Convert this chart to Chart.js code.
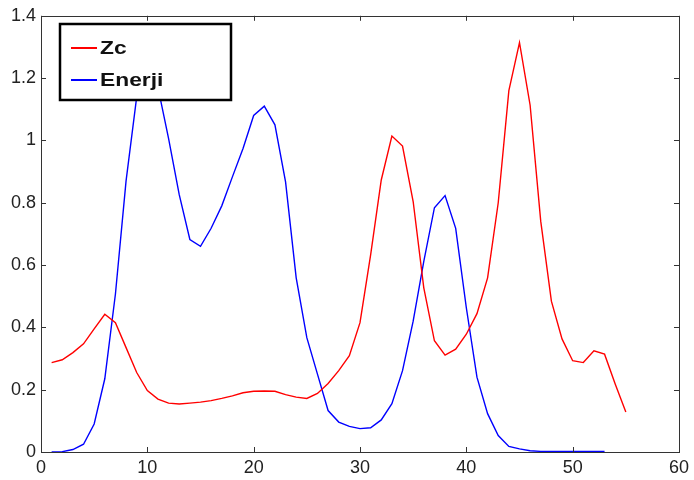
<!DOCTYPE html>
<html>
<head>
<meta charset="utf-8">
<script src="https://cdn.jsdelivr.net/npm/chart.js@4/dist/chart.umd.min.js"></script>
<style>
  html, body { margin: 0; padding: 0; background: #fff; }
  #wrap { width: 694px; height: 480px; }
</style>
</head>
<body>
<div id="wrap"><canvas id="zcChart"></canvas></div>
<script>
// --- data ---
const xTicks = [0, 10, 20, 30, 40, 50, 60];
const yTicks = [0, 0.2, 0.4, 0.6, 0.8, 1, 1.2, 1.4];

// Zc, frames 1..55
const zcValues = [
  0.287, 0.296, 0.319, 0.347, 0.395, 0.442, 0.415, 0.335, 0.255, 0.197,
  0.170, 0.157, 0.154, 0.157, 0.160, 0.165, 0.172, 0.180, 0.190, 0.195,
  0.196, 0.195, 0.184, 0.176, 0.172, 0.188, 0.220, 0.261, 0.309, 0.415,
  0.633, 0.873, 1.014, 0.982, 0.804, 0.527, 0.357, 0.311, 0.330, 0.378,
  0.444, 0.559, 0.800, 1.160, 1.314, 1.113, 0.740, 0.484, 0.363, 0.293,
  0.287, 0.325, 0.314, 0.218, 0.128
];

// Enerji, frames 1..53
const enerjiValues = [
  0.000, 0.001, 0.008, 0.025, 0.090, 0.235, 0.507, 0.870, 1.140, 1.260,
  1.170, 1.006, 0.826, 0.682, 0.660, 0.718, 0.790, 0.883, 0.974, 1.080,
  1.110, 1.050, 0.867, 0.559, 0.367, 0.250, 0.133, 0.096, 0.082, 0.075,
  0.078, 0.103, 0.155, 0.261, 0.420, 0.612, 0.784, 0.823, 0.718, 0.463,
  0.240, 0.123, 0.053, 0.018, 0.010, 0.004, 0.002, 0.002, 0.002, 0.002,
  0.002, 0.002, 0.002
];

const toPoints = vals => vals.map((v, i) => ({ x: i + 1, y: v }));

const FONT = 'Arial, "Liberation Sans", sans-serif';

// box around the plot with inward ticks on all four sides
const frameBox = {
  id: 'frameBox',
  afterDraw(chart) {
    const { ctx, chartArea: a, scales } = chart;
    ctx.save();
    ctx.strokeStyle = '#333';
    ctx.lineWidth = 1;
    ctx.strokeRect(Math.round(a.left) + 0.5, Math.round(a.top) + 0.5,
                   Math.round(a.right - a.left), Math.round(a.bottom - a.top));
    const t = 5;
    ctx.beginPath();
    xTicks.forEach(v => {
      const px = Math.round(scales.x.getPixelForValue(v)) + 0.5;
      ctx.moveTo(px, a.bottom); ctx.lineTo(px, a.bottom - t);
      ctx.moveTo(px, a.top); ctx.lineTo(px, a.top + t);
    });
    yTicks.forEach(v => {
      const py = Math.round(scales.y.getPixelForValue(v)) + 0.5;
      ctx.moveTo(a.left, py); ctx.lineTo(a.left + t, py);
      ctx.moveTo(a.right, py); ctx.lineTo(a.right - t, py);
    });
    ctx.stroke();
    ctx.restore();
  }
};

// legend box drawn over the lines, top-left corner
const boxLegend = {
  id: 'boxLegend',
  afterDatasetsDraw(chart) {
    const { ctx } = chart;
    const x = 60, y = 24, w = 171, h = 76;
    ctx.save();
    ctx.fillStyle = '#fff';
    ctx.fillRect(x, y, w, h);
    ctx.strokeStyle = '#000';
    ctx.lineWidth = 2.5;
    ctx.strokeRect(x, y, w, h);
    chart.data.datasets.forEach((ds, i) => {
      const ly = y + 24 + i * 32;
      ctx.strokeStyle = ds.borderColor;
      ctx.lineWidth = 2;
      ctx.beginPath();
      ctx.moveTo(x + 11, ly); ctx.lineTo(x + 37, ly);
      ctx.stroke();
      // labels are a little wide, so stretch them horizontally
      ctx.save();
      ctx.translate(x + 40, ly + 1);
      ctx.scale(1.2, 1);
      ctx.font = 'bold 19px ' + FONT;
      ctx.textBaseline = 'middle';
      ctx.fillStyle = '#111';
      ctx.fillText(ds.label, 0, 0);
      ctx.restore();
    });
    ctx.restore();
  }
};

new Chart(document.getElementById('zcChart').getContext('2d'), {
  type: 'line',
  data: {
    datasets: [
      {
        label: 'Zc',
        data: toPoints(zcValues),
        borderColor: '#ff0000',
        borderWidth: 1.4,
        pointRadius: 0,
        tension: 0,
        fill: false
      },
      {
        label: 'Enerji',
        data: toPoints(enerjiValues),
        borderColor: '#0000ff',
        borderWidth: 1.4,
        pointRadius: 0,
        tension: 0,
        fill: false
      }
    ]
  },
  options: {
    responsive: true,
    maintainAspectRatio: false,
    animation: false,
    layout: { padding: { top: 12, right: 10, left: 0, bottom: 0 } },
    scales: {
      x: {
        type: 'linear',
        min: 0, max: 60,
        afterBuildTicks: s => { s.ticks = xTicks.map(v => ({ value: v })); },
        afterFit: s => { s.height = 28; },
        grid: { display: false, drawTicks: false },
        border: { display: false },
        ticks: { padding: 5, color: '#222', font: { family: FONT, size: 18 }, maxRotation: 0 }
      },
      y: {
        min: 0, max: 1.4,
        afterBuildTicks: s => { s.ticks = yTicks.map(v => ({ value: v })); },
        afterFit: s => { s.width = 41; },
        grid: { display: false, drawTicks: false },
        border: { display: false },
        ticks: {
          padding: 5, color: '#222', font: { family: FONT, size: 18 },
          callback: v => String(Math.round(v * 10) / 10)
        }
      }
    },
    plugins: {
      legend: { display: false },
      tooltip: { enabled: false }
    }
  },
  plugins: [frameBox, boxLegend]
});
</script>
</body>
</html>
